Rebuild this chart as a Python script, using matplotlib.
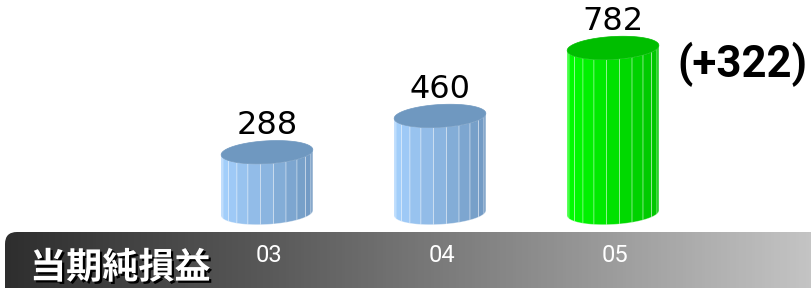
import matplotlib.pyplot as plt
import matplotlib.patheffects as pe
import numpy as np
from matplotlib.patches import Polygon, FancyBboxPatch
from matplotlib.colors import LinearSegmentedColormap, to_rgb

# data
periods = ['03', '04', '05']
values = [288, 460, 782]
diff_label = '(+322)'
title = '当期純損益'

side_colors = [('#a4d0fd', '#7199c2'), ('#a4d0fd', '#7199c2'), ('#00ff00', '#00c400')]
top_colors = ['#6f98c0', '#6f98c0', '#00be00']

fig = plt.figure(figsize=(8.12, 2.88), dpi=100)

# background band (pixel coords)
bax = fig.add_axes([0, 0, 1, 1], zorder=0)
bax.axis('off')
band = FancyBboxPatch((5, 232), 830, 80, boxstyle='round,pad=0,rounding_size=12',
                      fc='none', ec='none')
bax.add_patch(band)
cmap = LinearSegmentedColormap.from_list('band', ['#2e2e2e', '#5a5a5a', '#8e8e8e', '#c4c4c4'])
grad = np.linspace(0, 1, 256).reshape(1, -1)
im = bax.imshow(grad, cmap=cmap, extent=(5, 812, 300, 232), aspect='auto')
im.set_clip_path(band)
bax.set_xlim(0, 812)
bax.set_ylim(288, 0)

bax.text(30, 268, title, color='white', fontsize=26, fontweight='bold',
         family=['Noto Sans CJK JP', 'DejaVu Sans'], va='center', ha='left',
         path_effects=[pe.withSimplePatchShadow(offset=(1.6, -1.6), shadow_rgbFace='black', alpha=1)])

# bars axes
ax = fig.add_axes([0, 0, 1, 1], zorder=1)
ax.set_xlim(-1.543, 3.150)
ax.set_ylim(-355, 1009)
ax.axis('off')

rx, ry, tilt = 0.265, 54, 12
n_strips = 11
x = np.arange(len(values))

for i, v in enumerate(values):
    cx = x[i]
    c0, c1 = np.array(to_rgb(side_colors[i][0])), np.array(to_rgb(side_colors[i][1]))
    ts = np.linspace(np.pi, 2 * np.pi, n_strips + 1)
    for k in range(n_strips):
        t = np.linspace(ts[k], ts[k + 1], 6)
        xs = cx + rx * np.cos(t)
        yt = v + ry * np.sin(t) + tilt * np.cos(t)
        yb = 0 + ry * np.sin(t) + tilt * np.cos(t)
        pts = np.column_stack([np.r_[xs, xs[::-1]], np.r_[yb, yt[::-1]]])
        f = (1 + np.cos(ts[k] + (ts[1] - ts[0]) / 2)) / 2
        col = c0 * (1 - f) + c1 * f
        ax.add_patch(Polygon(pts, closed=True, fc=col, ec=(1, 1, 1, 0.4), lw=0.6))
    t = np.linspace(0, 2 * np.pi, 80)
    top = np.column_stack([cx + rx * np.cos(t), v + ry * np.sin(t) + tilt * np.cos(t)])
    ax.add_patch(Polygon(top, closed=True, fc=top_colors[i], ec=top_colors[i], lw=0.5))
    ax.text(cx, v + ry + 30, str(v), ha='center', va='baseline', fontsize=23,
            color='black', family='DejaVu Sans')
    ax.text(cx + 0.01, -199, periods[i], ha='center', va='center', fontsize=17,
            color='white', family=['Roboto', 'DejaVu Sans'])

ax.text(x[-1] + 0.37, 705, diff_label, ha='left', va='center', fontsize=31.5,
        fontweight='bold', color='black', family=['Roboto', 'DejaVu Sans'])

fig.savefig('out.png', dpi=100)
